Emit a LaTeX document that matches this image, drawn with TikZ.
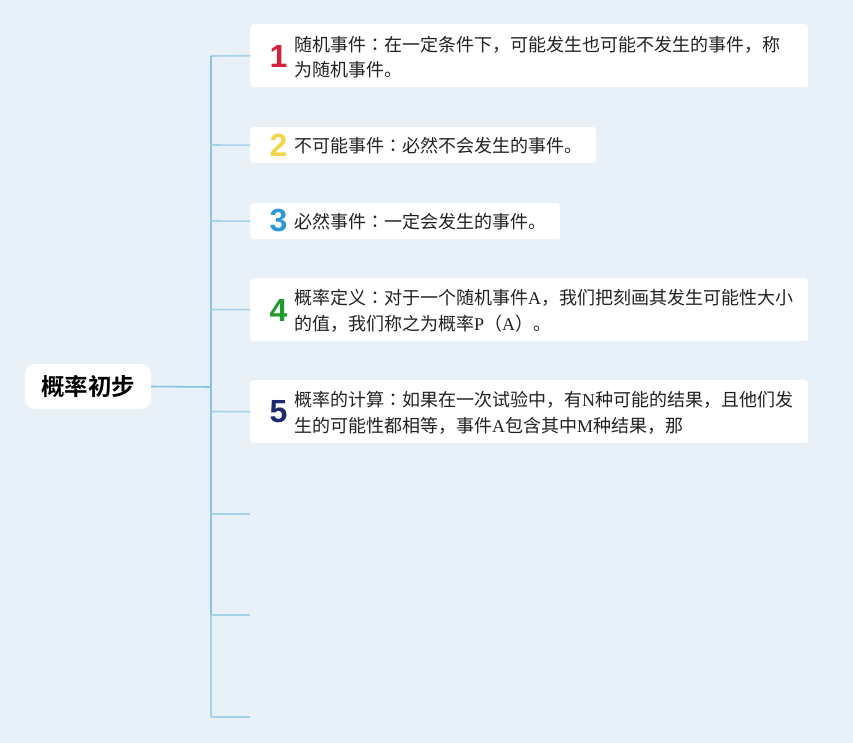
\documentclass[tikz,border=0pt]{standalone}
\usepackage{fontspec}
\setmainfont{Liberation Serif}
\newfontfamily\cjk{Noto Sans CJK SC}
\newfontfamily\cjktc{Noto Sans CJK TC}
\newfontfamily\cjkbold{Noto Sans CJK SC Bold}
\newfontfamily\digitfont{Liberation Sans}
\newcommand\lat[1]{{\rmfamily #1}}
\newcommand\colonmark{{\cjktc ：}}
\definecolor{bgc}{HTML}{E8F0F8}
\definecolor{trunkc}{HTML}{86C3E6}
\definecolor{branchc}{HTML}{A6D2EA}
\definecolor{txtc}{HTML}{222222}
\definecolor{c1}{HTML}{D3203B}
\definecolor{c2}{HTML}{F2D548}
\definecolor{c3}{HTML}{2B98DA}
\definecolor{c4}{HTML}{1F9A2C}
\definecolor{c5}{HTML}{1D2A6E}
\tikzset{
  topicbox/.style={fill=white, draw=none, rounded corners=3pt, anchor=north west, inner sep=0pt},
  rootbox/.style={fill=white, draw=none, rounded corners=10pt, minimum width=126pt, minimum height=45pt, inner sep=0pt, font=\cjkbold\fontsize{23.5pt}{26pt}\selectfont, text=black},
  numlabel/.style={inner sep=0pt, font=\digitfont\bfseries\fontsize{32pt}{32pt}\selectfont},
  bodytext/.style={anchor=west, inner sep=0pt, align=left, text=txtc, font=\cjk\fontsize{18pt}{25.5pt}\selectfont},
  trunkline/.style={draw=trunkc, line width=1.6pt},
  branchline/.style={draw=branchc, line width=1.6pt},
}
\begin{document}
\begin{tikzpicture}[x=1pt,y=-1pt]
\useasboundingbox (0,0) rectangle (853,743);
\fill[bgc] (0,0) rectangle (853,743);

% root
\node[rootbox] (root) at (88,386.5) {概率初步};

% junction and trunk
\coordinate (j) at (211,387);
\coordinate (ttop) at (211,56);
\coordinate (tmid) at (211,615);
\coordinate (tbot) at (211,717);

% topic boxes
\node[topicbox, minimum width=558pt, minimum height=63pt] (b1) at (250,24) {};
\node[topicbox, minimum width=346pt, minimum height=36pt] (b2) at (250,127) {};
\node[topicbox, minimum width=310pt, minimum height=36pt] (b3) at (250,203) {};
\node[topicbox, minimum width=558pt, minimum height=63pt] (b4) at (250,278) {};
\node[topicbox, minimum width=558pt, minimum height=63pt] (b5) at (250,380) {};

% empty branch ends
\coordinate (e6) at (250,514);
\coordinate (e7) at (250,615);
\coordinate (e8) at (250,717);

% connectors
\draw[trunkline] (root.east) -- (j);
\draw[trunkline] (ttop) -- (tmid);
\draw[branchline] (tmid) -- (tbot);
\draw[branchline] (ttop) -- (b1.west);
\draw[branchline] (211,145) -- (b2.west);
\draw[branchline] (211,221) -- (b3.west);
\draw[branchline] (211,309.5) -- (b4.west);
\draw[branchline] (211,411.5) -- (b5.west);
\draw[branchline] (211,514) -- (e6);
\draw[branchline] (tmid) -- (e7);
\draw[branchline] (tbot) -- (e8);

% numbers
\node[numlabel, text=c1] (n1) at (278.5,56) {1};
\node[numlabel, text=c2] (n2) at (278.5,145) {2};
\node[numlabel, text=c3] (n3) at (278.5,221) {3};
\node[numlabel, text=c4] (n4) at (278.5,310.5) {4};
\node[numlabel, text=c5] (n5) at (278.5,412) {5};

% texts
\node[bodytext] (t1) at (294,57) {随机事件\colonmark 在一定条件下，可能发生也可能不发生的事件，称\\为随机事件。};
\node[bodytext] (t2) at (294,146) {不可能事件\colonmark 必然不会发生的事件。};
\node[bodytext] (t3) at (294,222) {必然事件\colonmark 一定会发生的事件。};
\node[bodytext] (t4) at (294,311) {概率定义\colonmark 对于一个随机事件\lat{A}，我们把刻画其发生可能性大小\\的值，我们称之为概率\lat{P}（\lat{A}）。};
\node[bodytext] (t5) at (294,413) {概率的计算\colonmark 如果在一次试验中，有\lat{N}种可能的结果，且他们发\\生的可能性都相等，事件\lat{A}包含其中\lat{M}种结果，那};
\end{tikzpicture}
\end{document}
